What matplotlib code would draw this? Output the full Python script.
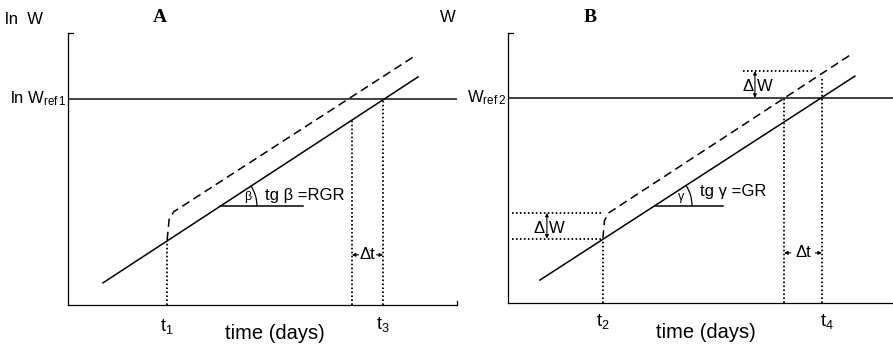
import numpy as np
import matplotlib.pyplot as plt
from matplotlib.patches import Arc

plt.rcParams['font.family'] = ['Liberation Sans', 'DejaVu Sans']
plt.rcParams['mathtext.fontset'] = 'custom'
plt.rcParams['mathtext.rm'] = 'Liberation Sans'
plt.rcParams['mathtext.it'] = 'Liberation Sans'

# --- panel A: ln W against time (schematic units) ---
a_solid_t = [0.90, 9.00]
a_solid_y = [0.57, 5.87]
a_dash_t = [2.55, 2.60, 2.72, 8.92]
a_dash_y = [1.67, 2.20, 2.40, 6.41]
a_ref = 5.30
a_t1, a_t3 = 2.55, 8.10
a_t_shift = 7.30
a_angle_t = [3.91, 6.04]
a_dt_y = 1.29

# --- panel B: W against time ---
b_solid_t = [0.82, 8.92]
b_solid_y = [0.59, 5.84]
b_dash_t = [2.44, 2.48, 2.59, 8.84]
b_dash_y = [1.66, 2.12, 2.32, 6.41]
b_ref = 5.28
b_t2, b_t4 = 2.44, 8.07
b_t_shift = 7.10
b_angle_t = [3.78, 5.53]
b_dt_y = 1.29
b_dw_low = [1.66, 2.32]
b_dw_high = [5.28, 5.97]

LW = 1.1
DOT = (0, (0.9, 1.3))
DLW = 1.3
DASH = (0, (5.5, 3.2))


def setup(ax, xmax, ymax):
    ax.set_xlim(0, xmax)
    ax.set_ylim(0, ymax)
    for s in ['top', 'right']:
        ax.spines[s].set_visible(False)
    for s in ['left', 'bottom']:
        ax.spines[s].set_linewidth(0.9)
    ax.set_xticks([])
    ax.set_yticks([])
    ax.plot([0, 0.012], [1, 1], transform=ax.transAxes, color='k', lw=0.9, clip_on=False)


def arrow(ax, xy, xytext, style='-|>'):
    ax.annotate('', xy=xy, xytext=xytext,
                arrowprops=dict(arrowstyle=style, lw=0.8, color='k',
                                mutation_scale=5, shrinkA=0, shrinkB=0))


def angle(ax, t, solid_t, solid_y, label, text, tx, ty, lx):
    y0 = np.interp(t[0], solid_t, solid_y)
    ax.plot(t, [y0, y0], color='k', lw=LW)
    slope = (solid_y[1] - solid_y[0]) / (solid_t[1] - solid_t[0])
    ang = np.degrees(np.arctan(slope))
    ax.add_patch(Arc((t[0], y0), 1.9, 1.9, theta1=0, theta2=ang, color='k', lw=0.9))
    ax.text(lx, y0 + 0.23, label, fontsize=9, ha='center', va='center')
    ax.text(tx, ty, text, fontsize=12, ha='left', va='center')


fig = plt.figure(figsize=(8.93, 3.47), dpi=100)

# ---------------- panel A ----------------
ax = fig.add_axes([0.0761, 0.1210, 0.4356, 0.7839])
setup(ax, 10.0, 7.0)
ax.plot([1, 1], [0, 0.015], transform=ax.transAxes, color='k', lw=0.9, clip_on=False)
ax.axhline(a_ref, color='#222222', lw=1.2)
ax.plot(a_solid_t, a_solid_y, color='k', lw=LW)
ax.plot(a_dash_t, a_dash_y, color='k', lw=LW, linestyle=DASH)
ax.plot([a_t1, a_t1], [0, np.interp(a_t1, a_solid_t, a_solid_y)], color='k', lw=DLW, linestyle=DOT)
ax.plot([a_t_shift, a_t_shift], [0, np.interp(a_t_shift, a_solid_t, a_solid_y)], color='k', lw=DLW, linestyle=DOT)
ax.plot([a_t3, a_t3], [0, a_ref], color='k', lw=DLW, linestyle=DOT)
angle(ax, a_angle_t, a_solid_t, a_solid_y, 'β', 'tg β =RGR', 5.06, 2.83, 4.63)
mid = (a_t_shift + a_t3) / 2
ax.text(mid, a_dt_y, 'Δt', fontsize=12, ha='center', va='center')
arrow(ax, (a_t_shift, a_dt_y), (a_t_shift + 0.17, a_dt_y))
arrow(ax, (a_t3, a_dt_y), (a_t3 - 0.17, a_dt_y))

ax.text(-0.113, 1.05, 'ln  W', transform=ax.transAxes, fontsize=12, ha='center', va='center')
ax.text(0.2365, 1.058, 'A', transform=ax.transAxes, fontsize=14, ha='center', va='center',
        family='Liberation Serif', weight='bold')
ax.text(-0.005, a_ref, r'ln W$_{\mathrm{ref\,1}}$', transform=ax.get_yaxis_transform(),
        fontsize=12, ha='right', va='center')
ax.text(a_t1, -0.078, r't$_1$', transform=ax.get_xaxis_transform(), fontsize=13, ha='center', va='center')
ax.text(a_t3, -0.072, r't$_3$', transform=ax.get_xaxis_transform(), fontsize=13, ha='center', va='center')
ax.text(0.531, -0.105, 'time (days)', transform=ax.transAxes, fontsize=14.5, ha='center', va='center')

# ---------------- panel B ----------------
bx = fig.add_axes([0.5689, 0.1268, 0.4311, 0.7781])
setup(bx, 9.9, 6.95)
bx.axhline(b_ref, color='#222222', lw=1.2)
bx.plot(b_solid_t, b_solid_y, color='k', lw=LW)
bx.plot(b_dash_t, b_dash_y, color='k', lw=LW, linestyle=DASH)
bx.plot([b_t2, b_t2], [0, b_dw_low[0]], color='k', lw=DLW, linestyle=DOT)
bx.plot([b_t_shift, b_t_shift], [0, b_ref], color='k', lw=DLW, linestyle=DOT)
bx.plot([b_t4, b_t4], [0, 5.80], color='k', lw=DLW, linestyle=DOT)
# delta W boxes
for yv in b_dw_low:
    bx.plot([0.10, b_t2], [yv, yv], color='k', lw=DLW, linestyle=DOT)
bx.plot([6.04, 7.84], [b_dw_high[1], b_dw_high[1]], color='k', lw=DLW, linestyle=DOT)
arrow(bx, (1.0, b_dw_low[1]), (1.0, b_dw_low[0]), '<|-|>')
bx.text(0.80, 1.93, 'Δ', fontsize=12, ha='center', va='center')
bx.text(1.25, 1.93, 'W', fontsize=12, ha='center', va='center')
arrow(bx, (6.35, b_dw_high[1]), (6.35, b_dw_high[0]), '<|-|>')
bx.text(6.16, 5.56, 'Δ', fontsize=12, ha='center', va='center')
bx.text(6.60, 5.56, 'W', fontsize=12, ha='center', va='center')
angle(bx, b_angle_t, b_solid_t, b_solid_y, 'γ', 'tg γ =GR', 4.94, 2.88, 4.45)
mid = (b_t_shift + b_t4) / 2
bx.text(mid, b_dt_y, 'Δt', fontsize=12, ha='center', va='center')
arrow(bx, (b_t_shift, b_dt_y), (b_t_shift + 0.17, b_dt_y))
arrow(bx, (b_t4, b_dt_y), (b_t4 - 0.17, b_dt_y))

bx.text(-0.156, 1.058, 'W', transform=bx.transAxes, fontsize=12, ha='center', va='center')
bx.text(0.213, 1.058, 'B', transform=bx.transAxes, fontsize=14, ha='center', va='center',
        family='Liberation Serif', weight='bold')
bx.text(-0.005, b_ref, r'W$_{\mathrm{ref\,2}}$', transform=bx.get_yaxis_transform(),
        fontsize=12, ha='right', va='center')
bx.text(b_t2, -0.068, r't$_2$', transform=bx.get_xaxis_transform(), fontsize=13, ha='center', va='center')
bx.text(8.2, -0.068, r't$_4$', transform=bx.get_xaxis_transform(), fontsize=13, ha='center', va='center')
bx.text(0.514, -0.111, 'time (days)', transform=bx.transAxes, fontsize=14.5, ha='center', va='center')

fig.savefig('out.png', dpi=100)
